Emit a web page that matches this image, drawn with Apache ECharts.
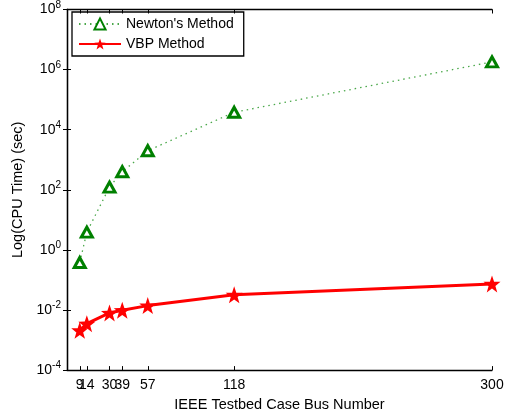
<!DOCTYPE html>
<html>
<head>
<meta charset="utf-8">
<script src="https://cdn.jsdelivr.net/npm/echarts@6/dist/echarts.min.js"></script>
<style>
html, body { margin: 0; padding: 0; background: #fff; }
#chart { width: 509px; height: 417px; }
</style>
</head>
<body>
<div id="chart"></div>
<script>
// bus numbers of the IEEE test cases
const busNumbers = [9, 14, 30, 39, 57, 118, 300];
// CPU time in seconds
const newtonTimes = [0.38, 3.9, 123, 400, 2000, 38000, 1.8e6];
const vbpTimes = [0.0021, 0.0035, 0.008, 0.0098, 0.014, 0.032, 0.074];
const yTicks = [1e-4, 1e-2, 1, 1e2, 1e4, 1e6, 1e8];

const font = '"Liberation Sans", Arial, Helvetica, sans-serif';

const chart = echarts.init(document.getElementById('chart'));

const pow10Label = (v) => {
    const e = Math.round(Math.log10(v));
    return '{b|10}{e|' + e + '}';
};

// an empty label at 0 keeps echarts from hiding "14" next to "9"
const xLabelValues = [0].concat(busNumbers);

const option = {
    animation: false,
    textStyle: { fontFamily: font },
    grid: { left: 67, right: 17, top: 8, bottom: 45 },
    legend: {
        orient: 'vertical',
        left: 72,
        top: 12,
        padding: [5, 10, 5, 6],
        itemGap: 6,
        itemWidth: 42,
        itemHeight: 14,
        borderColor: '#000',
        borderWidth: 1.3,
        textStyle: { fontSize: 14, color: '#000', fontFamily: font },
        data: ["Newton's Method", 'VBP Method'],
    },
    xAxis: [
        {
            type: 'value',
            min: 0,
            max: 300,
            name: 'IEEE Testbed Case Bus Number',
            nameLocation: 'middle',
            nameGap: 24,
            nameTextStyle: { fontSize: 14.5, color: '#000' },
            splitLine: { show: false },
            axisLine: { onZero: false, lineStyle: { color: '#000', width: 1.3 } },
            axisTick: { inside: true, length: 4, customValues: busNumbers, lineStyle: { color: '#000' } },
            axisLabel: {
                customValues: xLabelValues,
                formatter: (v) => (v === 0 ? '' : String(v)),
                hideOverlap: false,
                color: '#000',
                fontSize: 14,
                margin: 8,
            },
        },
        {
            type: 'value',
            position: 'top',
            min: 0,
            max: 300,
            splitLine: { show: false },
            axisLine: { onZero: false, lineStyle: { color: '#000', width: 1.3 } },
            axisTick: { inside: true, length: 4, customValues: busNumbers, lineStyle: { color: '#000' } },
            axisLabel: { show: false },
        },
    ],
    yAxis: [
        {
            type: 'log',
            logBase: 10,
            min: 1e-4,
            max: 1e8,
            name: 'Log(CPU Time) (sec)',
            nameLocation: 'middle',
            nameGap: 40,
            nameTextStyle: { fontSize: 14.5, color: '#000' },
            splitLine: { show: false },
            minorTick: { show: false },
            axisLine: { lineStyle: { color: '#000', width: 1.3 } },
            axisTick: { inside: true, length: 4, customValues: yTicks, lineStyle: { color: '#000' } },
            axisLabel: {
                customValues: yTicks,
                formatter: pow10Label,
                margin: 6,
                rich: {
                    b: { fontSize: 14, color: '#000', fontFamily: font },
                    e: { fontSize: 10, color: '#000', fontFamily: font, verticalAlign: 'top', padding: [0, 0, 9, 0] },
                },
            },
        },
        {
            type: 'log',
            logBase: 10,
            position: 'right',
            min: 1e-4,
            max: 1e8,
            splitLine: { show: false },
            minorTick: { show: false },
            axisLine: { lineStyle: { color: '#000', width: 1.3 } },
            axisTick: { inside: true, length: 4, customValues: yTicks, lineStyle: { color: '#000' } },
            axisLabel: { show: false },
        },
    ],
    series: [
        {
            name: "Newton's Method",
            type: 'line',
            data: busNumbers.map((b, i) => [b, newtonTimes[i]]),
            symbol: 'triangle',
            symbolSize: [11, 10],
            itemStyle: { color: '#fff', borderColor: '#008000', borderWidth: 3 },
            lineStyle: { color: '#4aa84a', width: 1.3, type: [1.5, 4] },
        },
        {
            name: 'VBP Method',
            type: 'line',
            data: busNumbers.map((b, i) => [b, vbpTimes[i]]),
            symbol: 'path://M0,-10 L2.35,-3.24 L9.51,-3.09 L3.8,1.24 L5.88,8.09 L0,4 L-5.88,8.09 L-3.8,1.24 L-9.51,-3.09 L-2.35,-3.24 Z',
            symbolSize: 17,
            itemStyle: { color: '#ff0000', borderColor: '#ff0000', borderWidth: 0 },
            lineStyle: { color: '#ff0000', width: 3 },
        },
    ],
};

option && chart.setOption(option);
</script>
</body>
</html>
